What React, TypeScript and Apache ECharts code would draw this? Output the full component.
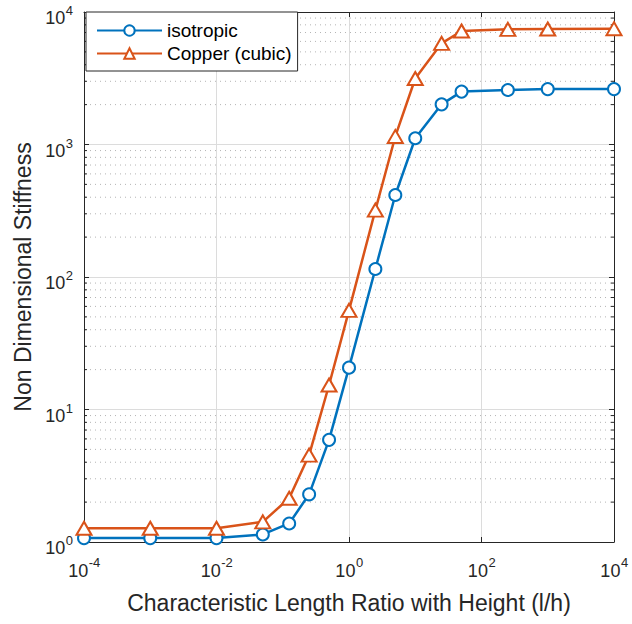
import React, { useEffect, useRef } from "react";
import * as echarts from "echarts";

const xValues = [1e-4, 1e-3, 1e-2, 0.05, 0.125, 0.25, 0.5, 1, 2.5, 5, 10, 25, 50, 250, 1000, 10000];
const isotropic = [1.07, 1.07, 1.07, 1.14, 1.38, 2.29, 5.9, 20.7, 115, 416, 1114, 2010, 2508, 2578, 2620, 2620];
const copper = [1.27, 1.27, 1.27, 1.42, 2.14, 4.53, 15.3, 56, 320, 1150, 3150, 5800, 7190, 7400, 7440, 7480];
const seriesNames = ["isotropic", "Copper (cubic)"];
const xTickExps = [-4, -2, 0, 2, 4];
const yTickExps = [0, 1, 2, 3, 4];
const minorMultipliers = [2, 3, 4, 5, 6, 7, 8, 9];
const xExpMin = -4;
const xExpMax = 4;
const yExpMin = 0;
const yExpMax = 4;

const BLUE = "#0072BD";
const ORANGE = "#D95319";
const AXIS = "#262626";
const FONT = "Liberation Sans";
const BASE_FS = 18;
const SUP_FS = 13;

function measure(text: string, fs: number): number {
  const c = document.createElement("canvas").getContext("2d");
  if (!c) return text.length * fs * 0.556;
  c.font = `${fs}px "${FONT}"`;
  return c.measureText(text).width;
}

export default function App() {
  const ref = useRef<HTMLDivElement>(null);
  useEffect(() => {
    document.body.style.margin = "0";
    const chart = echarts.init(ref.current!, null, { renderer: "svg" });
    const toPts = (ys: number[]) => xValues.map((x, i) => [Math.log10(x), Math.log10(ys[i])]);
    const minor: number[][] = [];
    for (let n = yExpMin; n < yExpMax; n++) {
      for (const k of minorMultipliers) minor.push([xExpMin, Math.log10(k * Math.pow(10, n))]);
    }
    const baseW = measure("10", BASE_FS);
    const txt = (text: string, x: number, y: number, fs: number, align: string) => ({
      type: "text",
      x,
      y,
      style: { text, fontSize: fs, fontFamily: FONT, fill: AXIS, align, verticalAlign: "middle" },
    });
    const axisCommon = {
      type: "value" as const,
      axisLine: { show: true, onZero: false, lineStyle: { color: AXIS, width: 1 } },
      axisTick: { show: true, inside: true, length: 5, lineStyle: { color: AXIS } },
      axisLabel: { show: false },
    };
    chart.setOption({
      animation: false,
      textStyle: { fontFamily: FONT },
      grid: { left: 84, right: 18, top: 12, bottom: 82, containLabel: false },
      legend: {
        left: 86,
        top: 12,
        orient: "vertical",
        itemWidth: 65,
        itemHeight: 13,
        itemGap: 4,
        padding: [9, 6, 8, 10],
        borderColor: AXIS,
        borderWidth: 1,
        backgroundColor: "#fff",
        textStyle: { fontSize: 19, color: "#000", fontFamily: FONT },
        data: seriesNames,
      },
      xAxis: [
        {
          ...axisCommon,
          min: xExpMin,
          max: xExpMax,
          interval: 2,
          splitLine: { show: true, lineStyle: { color: "#dcdcdc", width: 1 } },
          name: "Characteristic Length Ratio with Height (l/h)",
          nameLocation: "middle",
          nameGap: 49,
          nameTextStyle: { fontSize: 23, color: AXIS, fontFamily: FONT },
        },
        {
          ...axisCommon,
          position: "top",
          min: xExpMin,
          max: xExpMax,
          interval: 2,
          splitLine: { show: false },
        },
      ],
      yAxis: [
        {
          ...axisCommon,
          min: yExpMin,
          max: yExpMax,
          interval: 1,
          splitLine: { show: true, lineStyle: { color: "#dcdcdc", width: 1 } },
          name: "Non Dimensional Stiffness",
          nameLocation: "middle",
          nameGap: 50,
          nameTextStyle: { fontSize: 23, color: AXIS, fontFamily: FONT },
        },
        {
          ...axisCommon,
          position: "right",
          min: yExpMin,
          max: yExpMax,
          interval: 1,
          splitLine: { show: false },
        },
      ],
      series: [
        {
          type: "custom",
          silent: true,
          z: 1,
          clip: false,
          data: minor,
          renderItem: (params: any, api: any) => {
            const v = api.value(1);
            const p1 = api.coord([xExpMin, v]);
            const p2 = api.coord([xExpMax, v]);
            return {
              type: "group",
              children: [
                {
                  type: "line",
                  shape: { x1: p1[0] + 1, y1: p1[1], x2: p2[0] - 1, y2: p1[1] },
                  style: { stroke: "#b4b4b4", lineWidth: 1, lineDash: [1, 4] },
                },
                {
                  type: "line",
                  shape: { x1: p1[0], y1: p1[1], x2: p1[0] + 3, y2: p1[1] },
                  style: { stroke: AXIS, lineWidth: 1 },
                },
                {
                  type: "line",
                  shape: { x1: p2[0] - 3, y1: p2[1], x2: p2[0], y2: p2[1] },
                  style: { stroke: AXIS, lineWidth: 1 },
                },
              ],
            };
          },
        },
        {
          type: "custom",
          silent: true,
          clip: false,
          z: 5,
          data: xTickExps.map((e) => [e, yExpMin]),
          renderItem: (params: any, api: any) => {
            const e = api.value(0);
            const p = api.coord([e, yExpMin]);
            const sup = String(e);
            const supW = measure(sup, SUP_FS);
            const left = p[0] - (baseW + supW) / 2;
            return {
              type: "group",
              children: [
                txt("10", left, p[1] + 29, BASE_FS, "left"),
                txt(sup, left + baseW + 0.5, p[1] + 20, SUP_FS, "left"),
              ],
            };
          },
        },
        {
          type: "custom",
          silent: true,
          clip: false,
          z: 5,
          data: yTickExps.map((e) => [xExpMin, e]),
          renderItem: (params: any, api: any) => {
            const e = api.value(1);
            const p = api.coord([xExpMin, e]);
            const sup = String(e);
            const supW = measure(sup, SUP_FS);
            const right = p[0] - 11;
            return {
              type: "group",
              children: [
                txt("10", right - supW - 0.5, p[1] + 6, BASE_FS, "right"),
                txt(sup, right, p[1] - 1.5, SUP_FS, "right"),
              ],
            };
          },
        },
        {
          name: seriesNames[0],
          type: "line",
          z: 3,
          data: toPts(isotropic),
          symbol: "emptyCircle",
          symbolSize: 12,
          lineStyle: { color: BLUE, width: 2.5 },
          itemStyle: { color: BLUE, borderWidth: 2.2 },
        },
        {
          name: seriesNames[1],
          type: "line",
          z: 4,
          data: toPts(copper),
          symbol: "emptyTriangle",
          symbolSize: [15, 13],
          lineStyle: { color: ORANGE, width: 2.5 },
          itemStyle: { color: ORANGE, borderWidth: 2.2 },
        },
      ],
    });
    return () => chart.dispose();
  }, []);
  return <div ref={ref} style={{ width: 632, height: 624 }} />;
}
